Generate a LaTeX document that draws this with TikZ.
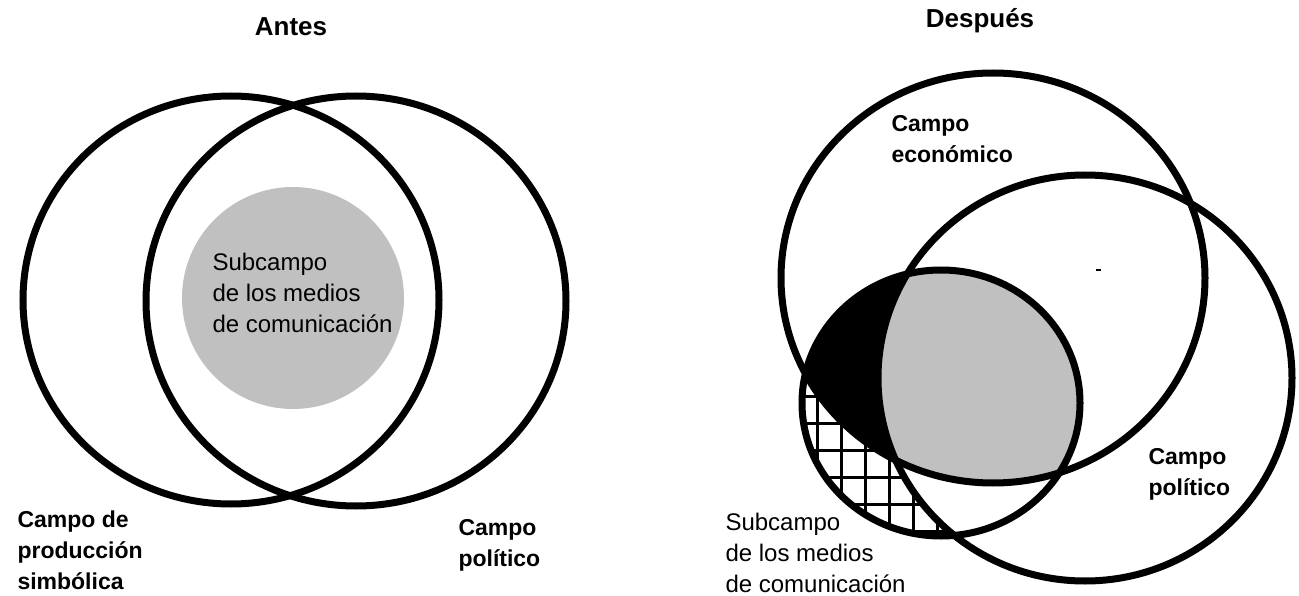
\documentclass[tikz,border=0pt]{standalone}
\usepackage{fontspec}
\setmainfont{Liberation Sans}
\definecolor{subgray}{RGB}{192,192,192}
\begin{document}
\begin{tikzpicture}[x=1pt, y=-1pt, line width=7pt,
    title/.style={font=\fontsize{26}{31}\selectfont\bfseries, anchor=base, inner sep=0pt},
    field/.style={font=\fontsize{23}{31}\selectfont\bfseries, align=left, anchor=base west, inner sep=0pt},
    subfield/.style={font=\fontsize{24}{31}\selectfont, align=left, anchor=base west, inner sep=0pt},
    hatch/.style={line width=3pt}]
  \useasboundingbox (0,0) rectangle (1299,596);

  \coordinate (prod) at (231,300);
  \coordinate (polA) at (356,301);
  \coordinate (medA) at (293,298);
  \coordinate (eco) at (993,278);
  \coordinate (polB) at (1085,378);
  \coordinate (medB) at (941,403);

  % Antes
  \node[title] (antes) at (291,36) {Antes};
  \fill[subgray] (medA) circle[radius=111pt];
  \draw (prod) ellipse[x radius=208pt, y radius=204pt];
  \draw (polA) ellipse[x radius=210pt, y radius=205pt];

  % multi-line labels: base = last line
  \node[subfield] (medAlabel) at (209,332) {Subcampo\\de los medios\\de comunicación};
  \node[field] (prodlabel) at (14,589) {Campo de\\producción\\simbólica};
  \node[field] (polAlabel) at (455,566) {Campo\\político};

  % Despues
  \node[title] (despues) at (980,28) {Después};
  \begin{scope}
    \clip (medB) ellipse[x radius=139pt, y radius=133pt];
    \foreach \gx in {793,817,...,961}
      \draw[hatch] (\gx,260) -- (\gx,545);
    \foreach \gy in {396,423,...,560}
      \draw[hatch] (795,\gy) -- (1085,\gy);
    \fill[white] (polB) ellipse[x radius=207pt, y radius=203pt];
    \fill[black] (eco) ellipse[x radius=212pt, y radius=205pt];
    \begin{scope}
      \clip (polB) ellipse[x radius=207pt, y radius=203pt];
      \fill[subgray] (eco) ellipse[x radius=212pt, y radius=205pt];
    \end{scope}
  \end{scope}
  \draw (eco) ellipse[x radius=212pt, y radius=205pt];
  \draw (polB) ellipse[x radius=207pt, y radius=203pt];
  \draw (medB) ellipse[x radius=139pt, y radius=133pt];
  \fill (1096,269) rectangle (1101,271);

  \node[field] (ecolabel) at (888,163) {Campo\\económico};
  \node[field] (polBlabel) at (1145,495) {Campo\\político};
  \node[subfield] (medBlabel) at (722,592) {Subcampo\\de los medios\\de comunicación};

\end{tikzpicture}
\end{document}
